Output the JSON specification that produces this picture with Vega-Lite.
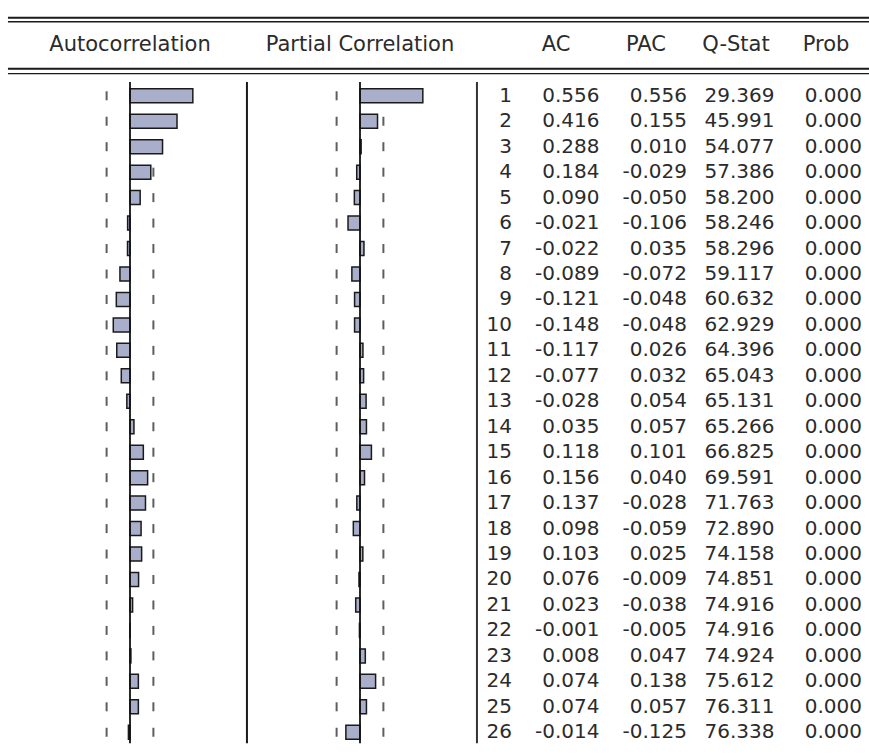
{
  "$schema": "https://vega.github.io/schema/vega-lite/v6.json",
  "width": 869,
  "height": 756,
  "padding": 0,
  "autosize": {"type": "none"},
  "background": "white",
  "config": {
    "view": {"stroke": null},
    "locale": {"number": {"decimal": ".", "thousands": ",", "grouping": [3], "currency": ["$", ""], "minus": "-"}}
  },
  "data": {"values": [
    {"lag": 1, "ac": 0.556, "pac": 0.556, "q": 29.369, "prob": 0.000},
    {"lag": 2, "ac": 0.416, "pac": 0.155, "q": 45.991, "prob": 0.000},
    {"lag": 3, "ac": 0.288, "pac": 0.010, "q": 54.077, "prob": 0.000},
    {"lag": 4, "ac": 0.184, "pac": -0.029, "q": 57.386, "prob": 0.000},
    {"lag": 5, "ac": 0.090, "pac": -0.050, "q": 58.200, "prob": 0.000},
    {"lag": 6, "ac": -0.021, "pac": -0.106, "q": 58.246, "prob": 0.000},
    {"lag": 7, "ac": -0.022, "pac": 0.035, "q": 58.296, "prob": 0.000},
    {"lag": 8, "ac": -0.089, "pac": -0.072, "q": 59.117, "prob": 0.000},
    {"lag": 9, "ac": -0.121, "pac": -0.048, "q": 60.632, "prob": 0.000},
    {"lag": 10, "ac": -0.148, "pac": -0.048, "q": 62.929, "prob": 0.000},
    {"lag": 11, "ac": -0.117, "pac": 0.026, "q": 64.396, "prob": 0.000},
    {"lag": 12, "ac": -0.077, "pac": 0.032, "q": 65.043, "prob": 0.000},
    {"lag": 13, "ac": -0.028, "pac": 0.054, "q": 65.131, "prob": 0.000},
    {"lag": 14, "ac": 0.035, "pac": 0.057, "q": 65.266, "prob": 0.000},
    {"lag": 15, "ac": 0.118, "pac": 0.101, "q": 66.825, "prob": 0.000},
    {"lag": 16, "ac": 0.156, "pac": 0.040, "q": 69.591, "prob": 0.000},
    {"lag": 17, "ac": 0.137, "pac": -0.028, "q": 71.763, "prob": 0.000},
    {"lag": 18, "ac": 0.098, "pac": -0.059, "q": 72.890, "prob": 0.000},
    {"lag": 19, "ac": 0.103, "pac": 0.025, "q": 74.158, "prob": 0.000},
    {"lag": 20, "ac": 0.076, "pac": -0.009, "q": 74.851, "prob": 0.000},
    {"lag": 21, "ac": 0.023, "pac": -0.038, "q": 74.916, "prob": 0.000},
    {"lag": 22, "ac": -0.001, "pac": -0.005, "q": 74.916, "prob": 0.000},
    {"lag": 23, "ac": 0.008, "pac": 0.047, "q": 74.924, "prob": 0.000},
    {"lag": 24, "ac": 0.074, "pac": 0.138, "q": 75.612, "prob": 0.000},
    {"lag": 25, "ac": 0.074, "pac": 0.057, "q": 76.311, "prob": 0.000},
    {"lag": 26, "ac": -0.014, "pac": -0.125, "q": 76.338, "prob": 0.000}
  ]},
  "resolve": {"scale": {"x": "independent"}},
  "layer": [
    {
      "layer": [
        {
          "mark": {"type": "tick", "orient": "vertical", "size": 9, "thickness": 2, "color": "#1a1a1a"},
          "encoding": {
            "x": {"datum": -0.207, "type": "quantitative", "scale": {"domain": [-1.1504, 6.5398], "nice": false, "zero": false}, "axis": null},
            "y": {"field": "lag", "type": "quantitative", "scale": {"domain": [-2.5659, 26.7364], "reverse": true, "nice": false, "zero": false}, "axis": null}
          }
        },
        {
          "mark": {"type": "tick", "orient": "vertical", "size": 9, "thickness": 2, "color": "#1a1a1a"},
          "encoding": {
            "x": {"datum": 0.207, "type": "quantitative", "axis": null},
            "y": {"field": "lag", "type": "quantitative", "scale": {"domain": [-2.5659, 26.7364], "reverse": true, "nice": false, "zero": false}, "axis": null}
          }
        },
        {
          "mark": {"type": "bar", "orient": "horizontal", "size": 14, "fill": "#a9afcb", "stroke": "#1a1a1a", "strokeWidth": 1.5},
          "encoding": {
            "x": {"field": "ac", "type": "quantitative", "axis": null},
            "x2": {"datum": 0},
            "y": {"field": "lag", "type": "quantitative", "scale": {"domain": [-2.5659, 26.7364], "reverse": true, "nice": false, "zero": false}, "axis": null}
          }
        },
        {
          "data": {"values": [{}]},
          "mark": {"type": "rule", "color": "#111111", "strokeWidth": 1.8},
          "encoding": {
            "x": {"datum": 0, "type": "quantitative", "axis": null},
            "y": {"datum": 0.457, "type": "quantitative", "scale": {"domain": [-2.5659, 26.7364], "reverse": true, "nice": false, "zero": false}, "axis": null},
            "y2": {"datum": 26.43}
          }
        },
        {
          "data": {"values": [{}]},
          "mark": {"type": "rule", "color": "#1a1a1a", "strokeWidth": 2},
          "encoding": {
            "x": {"datum": 1.035, "type": "quantitative", "axis": null},
            "y": {"datum": 0.457, "type": "quantitative", "scale": {"domain": [-2.5659, 26.7364], "reverse": true, "nice": false, "zero": false}, "axis": null},
            "y2": {"datum": 26.43}
          }
        },
        {
          "data": {"values": [{}]},
          "mark": {"type": "text", "text": "Autocorrelation", "font": "DejaVu Sans", "fontSize": 21, "fill": "#2b2b2b", "align": "center", "baseline": "middle"},
          "encoding": {
            "x": {"datum": 0, "type": "quantitative", "axis": null},
            "y": {"datum": -0.977, "type": "quantitative", "scale": {"domain": [-2.5659, 26.7364], "reverse": true, "nice": false, "zero": false}, "axis": null}
          }
        },
        {
          "data": {"values": [{}]},
          "mark": {"type": "rule", "color": "#1a1a1a", "strokeWidth": 2},
          "encoding": {
            "x": {"datum": -1.08, "type": "quantitative", "axis": null},
            "x2": {"datum": 6.54},
            "y": {"datum": -2.062, "type": "quantitative", "scale": {"domain": [-2.5659, 26.7364], "reverse": true, "nice": false, "zero": false}, "axis": null}
          }
        },
        {
          "data": {"values": [{}]},
          "mark": {"type": "rule", "color": "#1a1a1a", "strokeWidth": 1.4},
          "encoding": {
            "x": {"datum": -1.08, "type": "quantitative", "axis": null},
            "x2": {"datum": 6.54},
            "y": {"datum": -1.907, "type": "quantitative", "scale": {"domain": [-2.5659, 26.7364], "reverse": true, "nice": false, "zero": false}, "axis": null}
          }
        },
        {
          "data": {"values": [{}]},
          "mark": {"type": "rule", "color": "#1a1a1a", "strokeWidth": 2},
          "encoding": {
            "x": {"datum": -1.08, "type": "quantitative", "axis": null},
            "x2": {"datum": 6.54},
            "y": {"datum": -0.066, "type": "quantitative", "scale": {"domain": [-2.5659, 26.7364], "reverse": true, "nice": false, "zero": false}, "axis": null}
          }
        },
        {
          "data": {"values": [{}]},
          "mark": {"type": "rule", "color": "#1a1a1a", "strokeWidth": 1.4},
          "encoding": {
            "x": {"datum": -1.08, "type": "quantitative", "axis": null},
            "x2": {"datum": 6.54},
            "y": {"datum": 0.128, "type": "quantitative", "scale": {"domain": [-2.5659, 26.7364], "reverse": true, "nice": false, "zero": false}, "axis": null}
          }
        }
      ]
    },
    {
      "layer": [
        {
          "mark": {"type": "tick", "orient": "vertical", "size": 9, "thickness": 2, "color": "#1a1a1a"},
          "encoding": {
            "x": {"datum": -0.207, "type": "quantitative", "scale": {"domain": [-3.1858, 4.5044], "nice": false, "zero": false}, "axis": null},
            "y": {"field": "lag", "type": "quantitative", "scale": {"domain": [-2.5659, 26.7364], "reverse": true, "nice": false, "zero": false}, "axis": null}
          }
        },
        {
          "mark": {"type": "tick", "orient": "vertical", "size": 9, "thickness": 2, "color": "#1a1a1a"},
          "encoding": {
            "x": {"datum": 0.207, "type": "quantitative", "axis": null},
            "y": {"field": "lag", "type": "quantitative", "scale": {"domain": [-2.5659, 26.7364], "reverse": true, "nice": false, "zero": false}, "axis": null}
          }
        },
        {
          "mark": {"type": "bar", "orient": "horizontal", "size": 14, "fill": "#a9afcb", "stroke": "#1a1a1a", "strokeWidth": 1.5},
          "encoding": {
            "x": {"field": "pac", "type": "quantitative", "axis": null},
            "x2": {"datum": 0},
            "y": {"field": "lag", "type": "quantitative", "scale": {"domain": [-2.5659, 26.7364], "reverse": true, "nice": false, "zero": false}, "axis": null}
          }
        },
        {
          "data": {"values": [{}]},
          "mark": {"type": "rule", "color": "#111111", "strokeWidth": 1.8},
          "encoding": {
            "x": {"datum": 0, "type": "quantitative", "axis": null},
            "y": {"datum": 0.457, "type": "quantitative", "scale": {"domain": [-2.5659, 26.7364], "reverse": true, "nice": false, "zero": false}, "axis": null},
            "y2": {"datum": 26.43}
          }
        },
        {
          "data": {"values": [{}]},
          "mark": {"type": "rule", "color": "#333333", "strokeWidth": 2},
          "encoding": {
            "x": {"datum": 1.035, "type": "quantitative", "axis": null},
            "y": {"datum": 0.457, "type": "quantitative", "scale": {"domain": [-2.5659, 26.7364], "reverse": true, "nice": false, "zero": false}, "axis": null},
            "y2": {"datum": 26.43}
          }
        },
        {
          "data": {"values": [{}]},
          "mark": {"type": "text", "text": "Partial Correlation", "font": "DejaVu Sans", "fontSize": 21, "fill": "#2b2b2b", "align": "center", "baseline": "middle"},
          "encoding": {
            "x": {"datum": 0, "type": "quantitative", "axis": null},
            "y": {"datum": -0.977, "type": "quantitative", "scale": {"domain": [-2.5659, 26.7364], "reverse": true, "nice": false, "zero": false}, "axis": null}
          }
        }
      ]
    },
    {
      "layer": [
        {
          "mark": {"type": "text", "font": "DejaVu Sans", "fontSize": 20, "fill": "#2b2b2b", "align": "right", "baseline": "middle"},
          "encoding": {
            "x": {"datum": "lag", "type": "nominal", "scale": {"type": "point", "domain": ["lag", "ac", "pac", "q", "prob"], "range": [512, 862], "padding": 0}, "axis": null},
            "y": {"field": "lag", "type": "quantitative", "scale": {"domain": [-2.5659, 26.7364], "reverse": true, "nice": false, "zero": false}, "axis": null},
            "text": {"field": "lag", "type": "quantitative", "format": "d"}
          }
        },
        {
          "transform": [{"fold": ["ac", "pac", "q", "prob"], "as": ["col", "val"]}],
          "mark": {"type": "text", "font": "DejaVu Sans", "fontSize": 20, "fill": "#2b2b2b", "align": "right", "baseline": "middle"},
          "encoding": {
            "x": {"field": "col", "type": "nominal", "scale": {"type": "point", "domain": ["lag", "ac", "pac", "q", "prob"], "range": [512, 862], "padding": 0}, "axis": null},
            "y": {"field": "lag", "type": "quantitative", "scale": {"domain": [-2.5659, 26.7364], "reverse": true, "nice": false, "zero": false}, "axis": null},
            "text": {"field": "val", "type": "quantitative", "format": ".3f"}
          }
        }
      ]
    },
    {
      "data": {"values": [{"h": "AC"}, {"h": "PAC"}, {"h": "Q-Stat"}, {"h": "Prob"}]},
      "mark": {"type": "text", "font": "DejaVu Sans", "fontSize": 21, "fill": "#2b2b2b", "align": "center", "baseline": "middle"},
      "encoding": {
        "x": {"field": "h", "type": "nominal", "scale": {"type": "point", "domain": ["AC", "PAC", "Q-Stat", "Prob"], "range": [556, 826], "padding": 0}, "axis": null},
        "y": {"datum": -0.977, "type": "quantitative", "scale": {"domain": [-2.5659, 26.7364], "reverse": true, "nice": false, "zero": false}, "axis": null},
        "text": {"field": "h", "type": "nominal"}
      }
    }
  ]
}
